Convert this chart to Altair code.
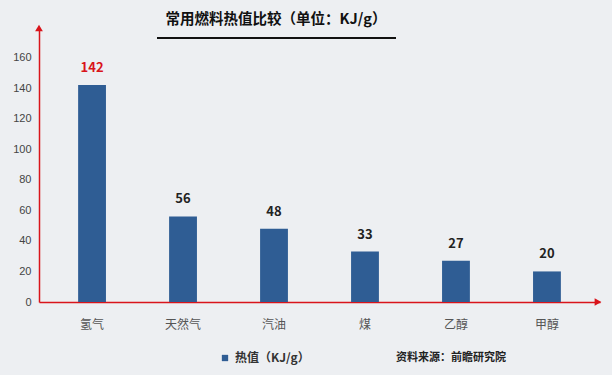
import altair as alt
import pandas as pd

fuels = ["氢气", "天然气", "汽油", "煤", "乙醇", "甲醇"]
values = [142, 56, 48, 33, 27, 20]
y_ticks = [0, 20, 40, 60, 80, 100, 120, 140, 160]

title_text = "常用燃料热值比较（单位：KJ/g）"
legend_text = "热值（KJ/g）"
source_text = "资料来源：前瞻研究院"

df = pd.DataFrame({"fuel": fuels, "value": values})

CJK = "Noto Sans CJK SC"
BAR = "#2f5d94"
RED = "#d9141b"

W, H = 561, 272

x_enc = alt.X("fuel:N", sort=fuels,
              scale=alt.Scale(paddingInner=0.694, paddingOuter=0.43),
              axis=alt.Axis(title=None, labelAngle=0, labelFont=CJK, labelFontSize=12,
                            labelColor="#555555", labelPadding=17, ticks=False,
                            domainColor=RED, domainWidth=1.5))
y_enc = alt.Y("value:Q", scale=alt.Scale(domain=[0, 178], nice=False),
              axis=alt.Axis(title=None, values=y_ticks, grid=False, ticks=False,
                            labelOverlap=False, labelFlush=False,
                            labelFont="Liberation Sans", labelFontSize=11,
                            labelColor="#444444", labelPadding=8,
                            domainColor=RED, domainWidth=1.5))

base = alt.Chart(df)

bars = base.mark_bar(color=BAR).encode(x=x_enc, y=y_enc)

labels = base.mark_text(font=CJK, fontSize=13, fontWeight="bold", baseline="alphabetic", dy=-13).encode(
    x=x_enc,
    y=y_enc,
    text="value:Q",
    color=alt.condition(alt.datum.fuel == "氢气", alt.value(RED), alt.value("#222222")),
)

one = alt.Chart(pd.DataFrame({"k": [0]}))

arrow_up = one.mark_point(shape="triangle-up", filled=True, color=RED, size=60, opacity=1).encode(
    x=alt.value(0), y=alt.value(-2))
arrow_right = one.mark_point(shape="triangle-right", filled=True, color=RED, size=60, opacity=1).encode(
    x=alt.value(W - 2), y=alt.value(H))

title = one.mark_text(text=title_text, font=CJK, fontSize=14.5, fontWeight="bold",
                      color="#111111", align="center", baseline="middle").encode(
    x=alt.value(237), y=alt.value(-10))
underline = one.mark_rule(color="#111111", strokeWidth=2).encode(
    x=alt.value(118), x2=alt.value(357), y=alt.value(8))

leg_sq = one.mark_square(color=BAR, size=40, opacity=1).encode(
    x=alt.value(186), y=alt.value(328))
leg_txt = one.mark_text(text=legend_text, font=CJK, fontSize=12, fontWeight="bold",
                        color="#333333", align="left", baseline="middle").encode(
    x=alt.value(196), y=alt.value(328))
src_txt = one.mark_text(text=source_text, font=CJK, fontSize=11, fontWeight="bold",
                        color="#222222", align="right", baseline="middle").encode(
    x=alt.value(467), y=alt.value(328))

chart = alt.layer(bars, labels, arrow_up, arrow_right, title, underline, leg_sq, leg_txt, src_txt).properties(
    width=W, height=H,
    autosize=alt.AutoSizeParams(type="none"),
    padding={"left": 39, "top": 30, "right": 12, "bottom": 73},
    background="#edeff2",
).configure_view(stroke=None)

chart.save("out.html", embed_options={"renderer": "svg", "actions": False})
